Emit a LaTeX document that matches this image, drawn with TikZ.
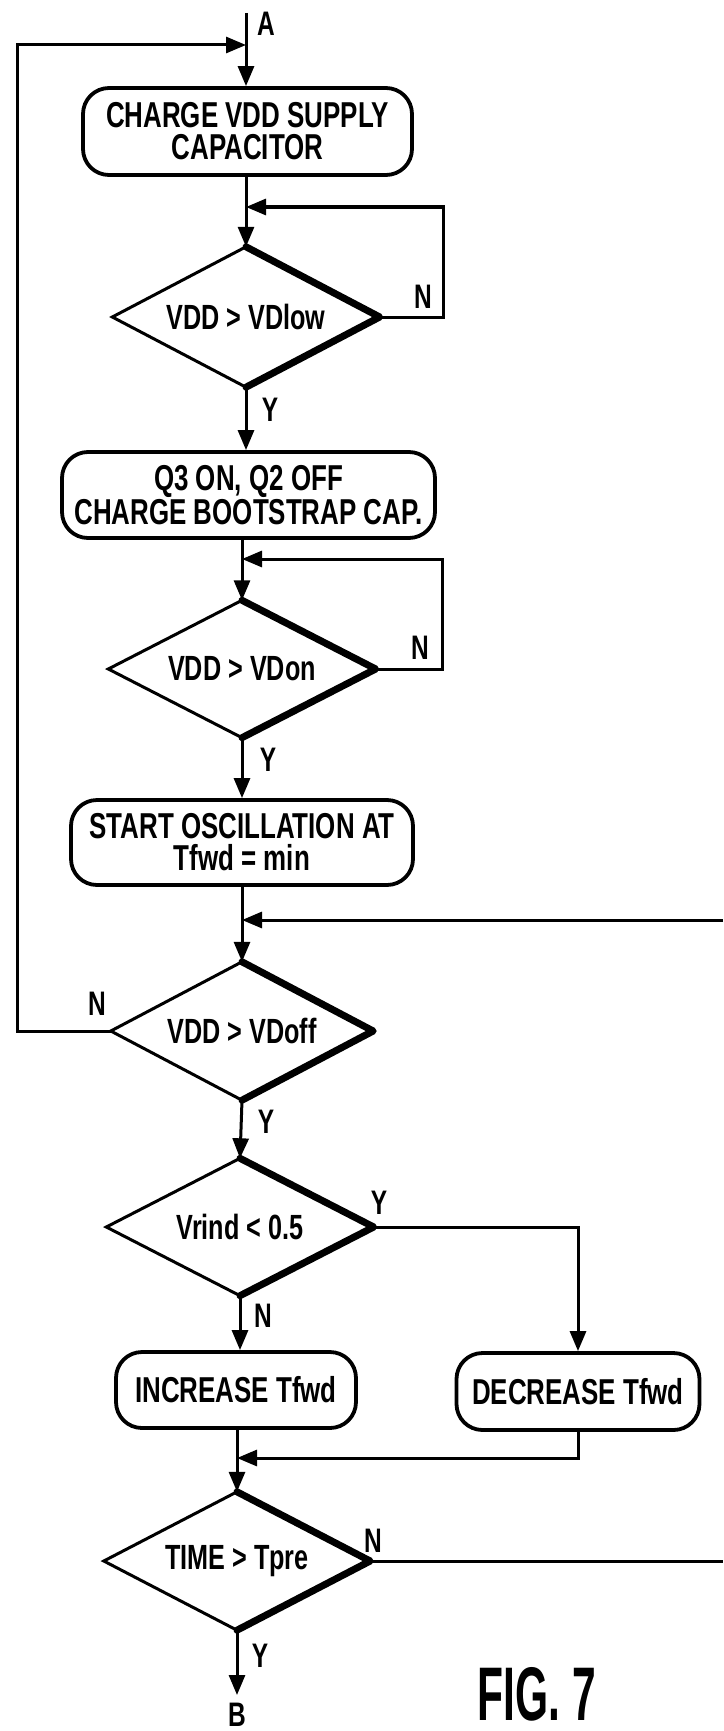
\documentclass[tikz,border=0pt]{standalone}
\usepackage{fontspec}
\setmainfont{Liberation Sans}
\newfontfamily\condfont[FakeStretch=0.72,UprightFont=* Bold]{Liberation Sans}
\newfontfamily\figfont[FakeStretch=0.56,UprightFont=* Bold]{Liberation Sans}
\usetikzlibrary{arrows.meta,shapes.geometric}

\tikzset{
  flow/.style={line width=3pt},
  arr/.style={flow,-{Triangle[length=20pt,width=16pt]}},
  procbox/.style={draw, line width=3.8pt, rounded corners=26pt, inner sep=0pt,
    align=center, font=\condfont\fontsize{36}{32}\selectfont},
  decision/.style={shape=diamond, inner sep=0pt, aspect=1.93,
    font=\condfont\fontsize{35}{35}\selectfont},
  branchlabel/.style={inner sep=0pt, font=\condfont\fontsize{34}{34}\selectfont},
  thinside/.style={line width=3pt, line cap=round},
  thickside/.style={line width=7pt, line cap=round, line join=round},
}

% decision outline: light left half, heavy right half
\newcommand{\decisionoutline}[1]{%
  \draw[thinside] (#1.south) -- (#1.west) -- (#1.north);
  \draw[thickside] (#1.north) -- (#1.east) -- (#1.south);
}

\begin{document}
\begin{tikzpicture}[x=1pt,y=-1pt]
\fill[white] (0,0) rectangle (723,1731);
\useasboundingbox (0,0) rectangle (723,1731);

% ---- blocks ----
\node[procbox, minimum width=329pt, minimum height=87pt] (b1) at (247.5,131.5)
  {CHARGE VDD SUPPLY\\CAPACITOR};
\node[decision, minimum width=267pt, minimum height=140pt] (d1) at (246,317) {VDD > VDlow};
\node[procbox, minimum width=373pt, minimum height=86pt] (b2) at (248.5,495)
  {Q3 ON, Q2 OFF\\CHARGE BOOTSTRAP CAP.};
\node[decision, minimum width=267pt, minimum height=137pt] (d2) at (242,669) {VDD > VDon};
\node[procbox, minimum width=342pt, minimum height=85pt] (b3) at (242,842.5)
  {START OSCILLATION AT\\Tfwd = min};
\node[decision, minimum width=262pt, minimum height=138pt] (d3) at (242,1031) {VDD > VDoff};
\node[decision, minimum width=267pt, minimum height=137pt] (d4) at (240,1227) {Vrind < 0.5};
\node[procbox, minimum width=240pt, minimum height=76pt] (b4) at (236,1390) {INCREASE Tfwd};
\node[procbox, minimum width=243pt, minimum height=77pt] (b5) at (578,1391.5) {DECREASE Tfwd};
\node[decision, minimum width=266pt, minimum height=138pt] (d5) at (237,1561) {TIME > Tpre};

\decisionoutline{d1}
\decisionoutline{d2}
\decisionoutline{d3}
\decisionoutline{d4}
\decisionoutline{d5}

% ---- junction and end points ----
\coordinate (top)   at (246,13);
\coordinate (jA)    at (246,45);
\coordinate (farL)  at (17,45);
\coordinate (j1)    at (246,207);
\coordinate (r1)    at (443,207);
\coordinate (j2)    at (242,559);
\coordinate (r2)    at (442,559);
\coordinate (rin)   at (723,920);
\coordinate (j3)    at (242,920);
\coordinate (j4)    at (237,1458);
\coordinate (rout)  at (723,1561);
\coordinate (exitB) at (237,1695);

% ---- connectors ----
\draw[arr] (top) -- (top |- b1.north);
\draw[arr] (d3.west) -| (farL) -- (jA);
\draw[arr] (b1.south -| d1.north) -- (d1.north);
\draw[arr] (d1.east) -| (r1) -- (j1);
\draw[arr] (d1.south) -- (d1.south |- b2.north);
\draw[arr] (b2.south -| d2.north) -- (d2.north);
\draw[arr] (d2.east) -| (r2) -- (j2);
\draw[arr] (d2.south) -- (d2.south |- b3.north);
\draw[arr] (b3.south -| d3.north) -- (d3.north);
\draw[arr] (rin) -- (j3);
\draw[arr] (d3.south) -- (d4.north);
\draw[arr] (d4.east) -| (b5.north);
\draw[arr] (d4.south) -- (d4.south |- b4.north);
\draw[arr] (b4.south -| d5.north) -- (d5.north);
\draw[arr] (b5.south) |- (j4);
\draw[flow] (d5.east) -- (rout);
\draw[arr] (d5.south) -- (exitB);

% ---- branch labels ----
\node[branchlabel] (lA)  at (266,24)   {A};
\node[branchlabel] (n1)  at (423,297)  {N};
\node[branchlabel] (y1)  at (270,410)  {Y};
\node[branchlabel] (n2)  at (420,648)  {N};
\node[branchlabel] (y2)  at (268,760)  {Y};
\node[branchlabel] (n3)  at (97,1004)  {N};
\node[branchlabel] (y3)  at (266,1122) {Y};
\node[branchlabel] (y4)  at (379,1203) {Y};
\node[branchlabel] (n4)  at (263,1316) {N};
\node[branchlabel] (n5)  at (373,1541) {N};
\node[branchlabel] (y5)  at (260,1656) {Y};
\node[branchlabel] (lB)  at (237,1715) {B};

\node[inner sep=0pt, font=\figfont\fontsize{76}{76}\selectfont] (fig) at (537,1694) {FIG. 7};
\end{tikzpicture}
\end{document}
